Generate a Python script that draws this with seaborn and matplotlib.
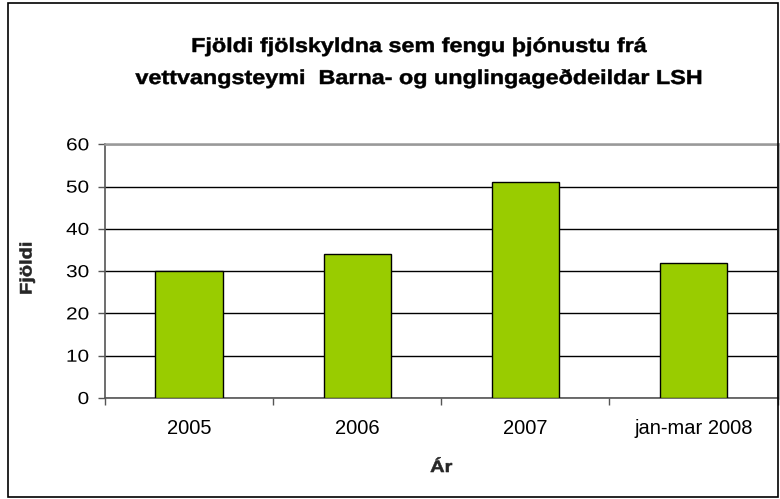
import matplotlib
matplotlib.use("Agg")
import matplotlib.pyplot as plt
import seaborn as sns
import pandas as pd
from matplotlib.patches import Rectangle
from matplotlib.patheffects import AbstractPathEffect
from matplotlib.transforms import Affine2D

categories = ["2005", "2006", "2007", "jan-mar 2008"]
values = [30, 34, 51, 32]
yticks = [0, 10, 20, 30, 40, 50, 60]
title_lines = ["Fjöldi fjölskyldna sem fengu þjónustu frá",
               "vettvangsteymi  Barna- og unglingageðdeildar LSH"]


class Stretch(AbstractPathEffect):
    """Widen rendered text along its own reading direction (optionally embolden)."""
    def __init__(self, s=1.2, anchor="center", vertical=False, stroke=0.0):
        super().__init__()
        self.s, self.anchor, self.vertical, self.stroke = s, anchor, vertical, stroke

    def draw_path(self, renderer, gc, tpath, affine, rgbFace=None):
        ext = affine.transform_path(tpath).get_extents()
        if self.vertical:
            c = (ext.y0 + ext.y1) / 2
            extra = Affine2D().translate(0, -c).scale(1, self.s).translate(0, c)
        else:
            if self.anchor == "right":
                c = ext.x1
            elif self.anchor == "left":
                c = ext.x0
            else:
                c = (ext.x0 + ext.x1) / 2
            extra = Affine2D().translate(-c, 0).scale(self.s, 1).translate(c, 0)
        aff = affine + extra
        if self.stroke > 0:
            gc0 = renderer.new_gc()
            gc0.copy_properties(gc)
            gc0.set_linewidth(self.stroke)
            gc0.set_foreground(rgbFace if rgbFace is not None else "black")
            renderer.draw_path(gc0, tpath, aff, rgbFace)
            gc0.restore()
        else:
            renderer.draw_path(gc, tpath, aff, rgbFace)


sns.set_style("white")
plt.rcParams['font.family'] = ['Liberation Sans', 'DejaVu Sans']
plt.rcParams['text.color'] = 'black'
plt.rcParams['xtick.color'] = 'black'
plt.rcParams['ytick.color'] = 'black'

df = pd.DataFrame({"Ár": categories, "Fjöldi": values})

W, H = 780, 499
fig = plt.figure(figsize=(7.8, 4.99), dpi=100)
L, R, T, B = 105, 777.5, 144.3, 398
ax = fig.add_axes([L / W, 1 - B / H, (R - L) / W, (B - T) / H])

sns.barplot(data=df, x="Ár", y="Fjöldi", color="#99CC00", width=0.4,
            edgecolor="black", linewidth=1, saturation=1, ax=ax, zorder=3)

ax.set_ylim(0, 60)
ax.set_xlim(-0.5, 3.5)
ax.set_yticks(yticks)
ax.set_yticklabels([str(t) for t in yticks], fontsize=12.5)
ax.set_xticks(range(len(categories)))
ax.set_xticklabels(categories, fontsize=14.5)
ax.yaxis.grid(True, color="black", linewidth=1)
ax.set_axisbelow(True)

for s in ["top", "right"]:
    ax.spines[s].set_color("#999999")
    ax.spines[s].set_linewidth(1.8)
for s in ["left", "bottom"]:
    ax.spines[s].set_color("#555555")
    ax.spines[s].set_linewidth(1.2)

ax.tick_params(axis="y", which="both", left=True, length=5, width=1, color="#555555", pad=6.5)
ax.tick_params(axis="x", which="major", bottom=True, length=0, pad=15)
ax.set_xticks([-0.5, 0.5, 1.5, 2.5, 3.5], minor=True)
ax.tick_params(axis="x", which="minor", bottom=True, length=5, width=1, color="#555555")

for lab in ax.get_yticklabels():
    lab.set_path_effects([Stretch(1.2, "right")])

ax.set_xlabel("Ár", fontsize=12, fontweight="bold")
ax.xaxis.label.set_va("baseline")
ax.xaxis.set_label_coords(0.5, (B - 472) / (B - T))
ax.xaxis.label.set_path_effects([Stretch(1.2, stroke=0.4)])

ax.set_ylabel("Fjöldi", fontsize=12, fontweight="bold")
ax.yaxis.label.set_va("center")
ax.yaxis.set_label_coords((27 - L) / (R - L), (B - 268.5) / (B - T))
ax.yaxis.label.set_path_effects([Stretch(1.2, vertical=True, stroke=0.4)])

cx = 419 / W
for line, base in zip(title_lines, [52, 84]):
    fig.text(cx, 1 - base / H, line, ha="center", va="baseline",
             fontsize=14.5, fontweight="bold",
             path_effects=[Stretch(1.16, stroke=0.35)])

fig.patches.append(Rectangle((8 / W, 2.5 / H), (777.5 - 8) / W, (496 - 2.5) / H,
                             transform=fig.transFigure, fill=False,
                             edgecolor="black", linewidth=1.2))

fig.savefig("out.png", dpi=100)
